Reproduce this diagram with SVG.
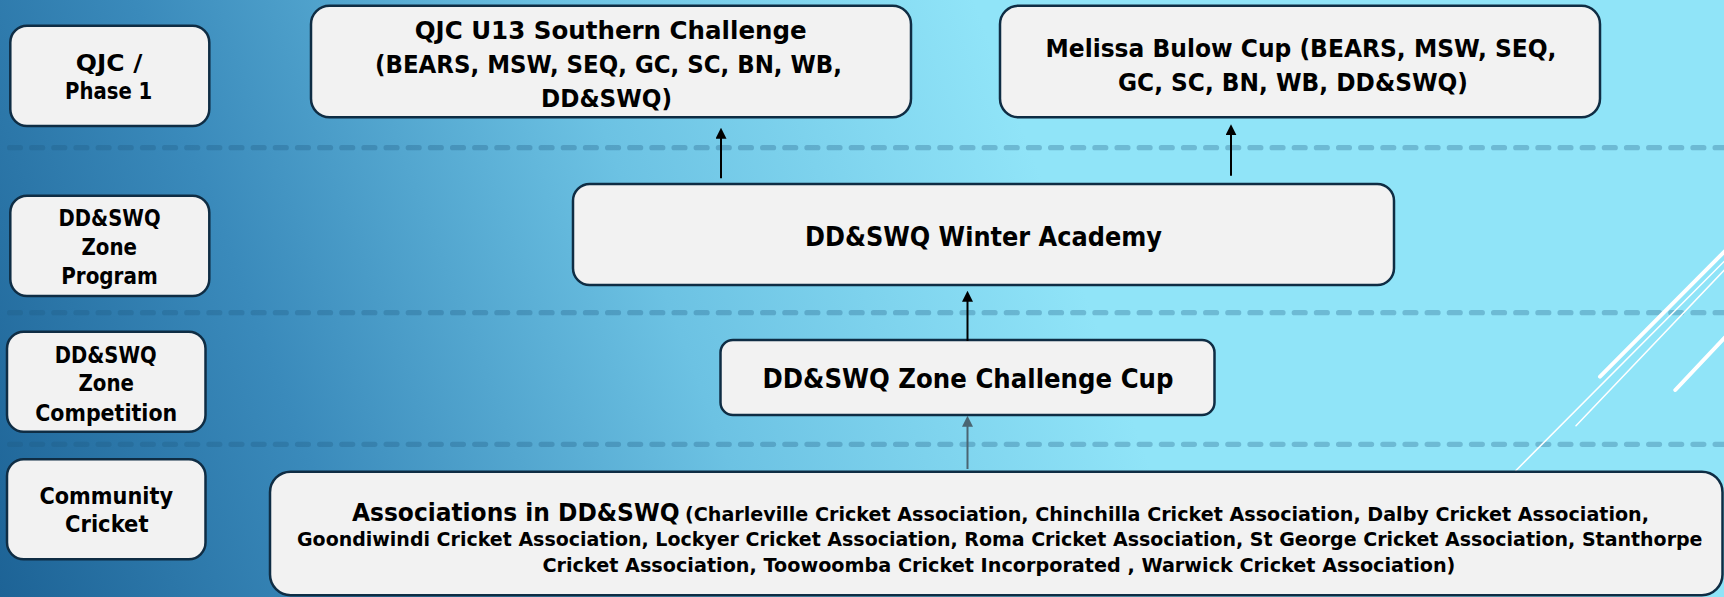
<svg xmlns="http://www.w3.org/2000/svg" width="1724" height="597" viewBox="0 0 1724 597">
<defs>
<linearGradient id="bg" gradientUnits="userSpaceOnUse" x1="0" y1="597" x2="1050" y2="200">
<stop offset="0" stop-color="#1d6396"/>
<stop offset="0.3" stop-color="#3a8abb"/>
<stop offset="0.65" stop-color="#6cc2e3"/>
<stop offset="1" stop-color="#90e4f8"/>
</linearGradient>
<marker id="ah" markerUnits="userSpaceOnUse" markerWidth="11" markerHeight="11" refX="5" refY="5.5" orient="auto">
<path d="M0,0 L11,5.5 L0,11 z" fill="#000000"/>
</marker>
<marker id="ahg" markerUnits="userSpaceOnUse" markerWidth="11" markerHeight="11" refX="5" refY="5.5" orient="auto">
<path d="M0,0 L11,5.5 L0,11 z" fill="#4a6572"/>
</marker>
<style>
.box{fill:#f2f2f2;stroke:#0f2d44;stroke-width:2.5}
.t{font-family:"DejaVu Sans","Liberation Sans",sans-serif;font-weight:bold;fill:#000000}
.lab{font-size:23px}
.big{font-size:26.7px}
.big2{font-size:25.5px}
.med{font-size:24px}
.sm{font-size:19px}
.sep{stroke:rgb(30,90,130);stroke-opacity:0.3;stroke-width:5.3;stroke-linecap:round;stroke-dasharray:10.8 11.35;fill:none}
.wl{stroke:#ffffff;stroke-linecap:round;fill:none}
.conn{stroke:#000000;stroke-width:2;fill:none;marker-end:url(#ah)}
.conng{stroke:#4a6572;stroke-width:2;fill:none;marker-end:url(#ahg)}
</style>
</defs>
<rect x="0" y="0" width="1724" height="597" fill="url(#bg)"/>
<g id="separators">
<line class="sep" x1="9.6" y1="147.7" x2="1724" y2="147.7"/>
<line class="sep" x1="9.6" y1="312.7" x2="1724" y2="312.7"/>
<line class="sep" x1="9.6" y1="444.3" x2="1724" y2="444.3"/>
</g>
<g id="decor">
<line class="wl" stroke-width="4" x1="1600" y1="376.7" x2="1730" y2="246"/>
<line class="wl" stroke-width="1.5" x1="1576" y1="425.7" x2="1730" y2="264"/>
<line class="wl" stroke-width="1.5" x1="1515.7" y1="470.7" x2="1730" y2="255.5"/>
<line class="wl" stroke-width="4" x1="1675.3" y1="390" x2="1730" y2="332"/>
</g>
<g id="label-qjc">
<rect class="box" x="10.3" y="25.7" width="199" height="100.3" rx="16.7"/>
<text class="t lab" x="75.8" y="70.7" textLength="66.6" lengthAdjust="spacingAndGlyphs">QJC /</text>
<text class="t lab" x="65" y="99.3" textLength="87.3" lengthAdjust="spacingAndGlyphs">Phase 1</text>
</g>
<g id="label-program">
<rect class="box" x="10.3" y="195.7" width="199" height="100.3" rx="16.7"/>
<text class="t lab" x="58.6" y="225.7" textLength="102" lengthAdjust="spacingAndGlyphs">DD&amp;SWQ</text>
<text class="t lab" x="81.5" y="255" textLength="55.5" lengthAdjust="spacingAndGlyphs">Zone</text>
<text class="t lab" x="61.2" y="284" textLength="96.5" lengthAdjust="spacingAndGlyphs">Program</text>
</g>
<g id="label-competition">
<rect class="box" x="7" y="331.7" width="198.5" height="100" rx="16.7"/>
<text class="t lab" x="54.7" y="362.7" textLength="102" lengthAdjust="spacingAndGlyphs">DD&amp;SWQ</text>
<text class="t lab" x="78.5" y="391" textLength="55.5" lengthAdjust="spacingAndGlyphs">Zone</text>
<text class="t lab" x="35.2" y="420.7" textLength="142" lengthAdjust="spacingAndGlyphs">Competition</text>
</g>
<g id="label-community">
<rect class="box" x="7" y="459.3" width="198.5" height="100" rx="16.7"/>
<text class="t lab" x="39.4" y="504" textLength="133.6" lengthAdjust="spacingAndGlyphs">Community</text>
<text class="t lab" x="65" y="532.3" textLength="83.5" lengthAdjust="spacingAndGlyphs">Cricket</text>
</g>
<g id="node-qjc-u13">
<rect class="box" x="311" y="5.7" width="600" height="111.6" rx="18.5"/>
<text class="t big2" x="414.7" y="39.3" textLength="392" lengthAdjust="spacingAndGlyphs">QJC U13 Southern Challenge</text>
<text class="t big2" x="375" y="73.3" textLength="467" lengthAdjust="spacingAndGlyphs">(BEARS, MSW, SEQ, GC, SC, BN, WB,</text>
<text class="t big2" x="541" y="106.7" textLength="131" lengthAdjust="spacingAndGlyphs">DD&amp;SWQ)</text>
</g>
<g id="node-melissa">
<rect class="box" x="1000" y="5.7" width="600" height="111.6" rx="18.5"/>
<text class="t big2" x="1045.5" y="57.3" textLength="511" lengthAdjust="spacingAndGlyphs">Melissa Bulow Cup (BEARS, MSW, SEQ,</text>
<text class="t big2" x="1118" y="90.7" textLength="350" lengthAdjust="spacingAndGlyphs">GC, SC, BN, WB, DD&amp;SWQ)</text>
</g>
<g id="node-winter">
<rect class="box" x="573" y="184" width="821" height="101" rx="16.8"/>
<text class="t big" x="805" y="245.7" textLength="357" lengthAdjust="spacingAndGlyphs">DD&amp;SWQ Winter Academy</text>
</g>
<g id="node-zone-cup">
<rect class="box" x="720.5" y="340" width="494" height="75" rx="12.5"/>
<text class="t big" x="762.5" y="388.3" textLength="411" lengthAdjust="spacingAndGlyphs">DD&amp;SWQ Zone Challenge Cup</text>
</g>
<g id="node-associations">
<rect class="box" x="270" y="471.7" width="1452.5" height="123.5" rx="20.6"/>
<text class="t med" x="352" y="520.7" textLength="327.5" lengthAdjust="spacingAndGlyphs">Associations in DD&amp;SWQ</text>
<text class="t sm" x="685" y="520.7" textLength="964" lengthAdjust="spacingAndGlyphs">(Charleville Cricket Association, Chinchilla Cricket Association, Dalby Cricket Association,</text>
<text class="t sm" x="297" y="546" textLength="1405.5" lengthAdjust="spacingAndGlyphs">Goondiwindi Cricket Association, Lockyer Cricket Association, Roma Cricket Association, St George Cricket Association, Stanthorpe</text>
<text class="t sm" x="542.4" y="571.7" textLength="913" lengthAdjust="spacingAndGlyphs">Cricket Association, Toowoomba Cricket Incorporated , Warwick Cricket Association)</text>
</g>
<g id="connectors">
<line class="conn" x1="721" y1="178.3" x2="721" y2="133.7"/>
<line class="conn" x1="1231" y1="175.7" x2="1231" y2="130.3"/>
<line class="conn" x1="967.5" y1="341" x2="967.5" y2="296.7"/>
<line class="conng" x1="967.5" y1="469" x2="967.5" y2="421.7"/>
</g>
</svg>
